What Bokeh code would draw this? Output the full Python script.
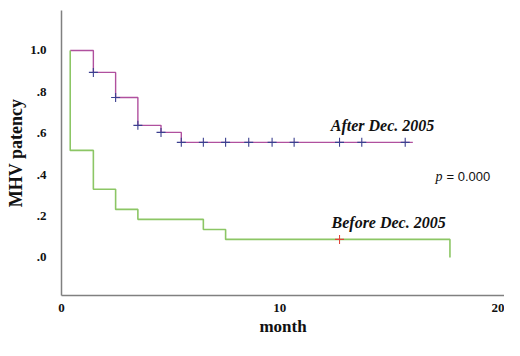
from bokeh.plotting import figure
from bokeh.models import Label, FixedTicker, Range1d
from bokeh.embed import file_html
from bokeh.resources import INLINE

# Kaplan-Meier steps (months, cumulative patency)
after_t = [0.4, 1.46, 2.48, 3.50, 4.56, 5.49, 16.1]
after_s = [1.0, 0.894, 0.773, 0.638, 0.604, 0.556, 0.556]
after_cens_t = [1.46, 2.48, 3.50, 4.56, 5.49, 6.50, 7.52, 8.58, 9.65, 10.66, 12.74, 13.76, 15.75]
after_cens_s = [0.894, 0.773, 0.638, 0.604, 0.556, 0.556, 0.556, 0.556, 0.556, 0.556, 0.556, 0.556, 0.556]

before_t = [0.4, 0.4, 1.46, 2.48, 3.50, 6.50, 7.52, 17.8, 17.8]
before_s = [1.0, 0.517, 0.329, 0.232, 0.184, 0.135, 0.087, 0.087, 0.0]
before_cens_t = [12.74]
before_cens_s = [0.087]

x_ticks = [0, 10, 20]
y_ticks = [0.0, 0.2, 0.4, 0.6, 0.8, 1.0]
y_tick_labels = [".0", ".2", ".4", ".6", ".8", "1.0"]

SERIF = "Liberation Serif"
INK = "#111111"

p = figure(width=504, height=340, output_backend="svg", toolbar_location=None,
           x_range=Range1d(0, 20.3), y_range=Range1d(-0.184, 1.193),
           min_border_left=61, min_border_right=0, min_border_top=10, min_border_bottom=45)
p.outline_line_color = None
p.xgrid.visible = False
p.ygrid.visible = False
p.background_fill_color = "white"
p.border_fill_color = "white"

for ax in (p.xaxis[0], p.yaxis[0]):
    ax.axis_line_color = "#808080"
    ax.axis_line_width = 1.5
    ax.major_tick_line_color = None
    ax.minor_tick_line_color = None
    ax.major_tick_out = 0
    ax.major_tick_in = 0
    ax.minor_tick_out = 0
    ax.minor_tick_in = 0
    ax.major_label_text_font = SERIF
    ax.major_label_text_font_style = "bold"
    ax.major_label_text_font_size = "13px"
    ax.major_label_text_color = INK
    ax.axis_label_text_font = SERIF
    ax.axis_label_text_font_style = "bold"
    ax.axis_label_text_color = INK

p.xaxis.ticker = FixedTicker(ticks=x_ticks)
p.xaxis.major_label_standoff = 8
p.xaxis.axis_label = "month"
p.xaxis.axis_label_text_font_size = "17px"
p.xaxis.axis_label_standoff = 2

p.yaxis.ticker = FixedTicker(ticks=y_ticks)
p.yaxis.major_label_overrides = {t: l for t, l in zip(y_ticks, y_tick_labels)}
p.yaxis.major_label_standoff = 15
p.yaxis.axis_label = "MHV patency"
p.yaxis.axis_label_text_font_size = "18px"
p.yaxis.axis_label_standoff = 1

# survival curves
p.step(after_t, after_s, mode="after", line_color="#b0509e", line_width=1.4)
p.step(before_t, before_s, mode="after", line_color="#8cc665", line_width=1.6)

# censor marks
p.scatter(after_cens_t, after_cens_s, marker="cross", size=9,
          line_color="#3b3f8f", line_width=1.1)
p.scatter(before_cens_t, before_cens_s, marker="cross", size=9,
          line_color="#e0443a", line_width=1.1)

# annotations
p.add_layout(Label(x=14.71, y=0.638, text="After Dec. 2005", text_font=SERIF,
                   text_font_style="bold italic", text_font_size="16px",
                   text_align="center", text_baseline="middle", text_color=INK))
p.add_layout(Label(x=14.99, y=0.169, text="Before Dec. 2005", text_font=SERIF,
                   text_font_style="bold italic", text_font_size="16px",
                   text_align="center", text_baseline="middle", text_color=INK))
p.add_layout(Label(x=17.14, y=0.391, text="p", text_font=SERIF,
                   text_font_style="italic", text_font_size="14px",
                   text_align="left", text_baseline="middle", text_color=INK))
p.add_layout(Label(x=17.64, y=0.391, text="= 0.000", text_font="Liberation Sans",
                   text_font_size="13px",
                   text_align="left", text_baseline="middle", text_color=INK))

open("out.html", "w").write(file_html(p, INLINE))
